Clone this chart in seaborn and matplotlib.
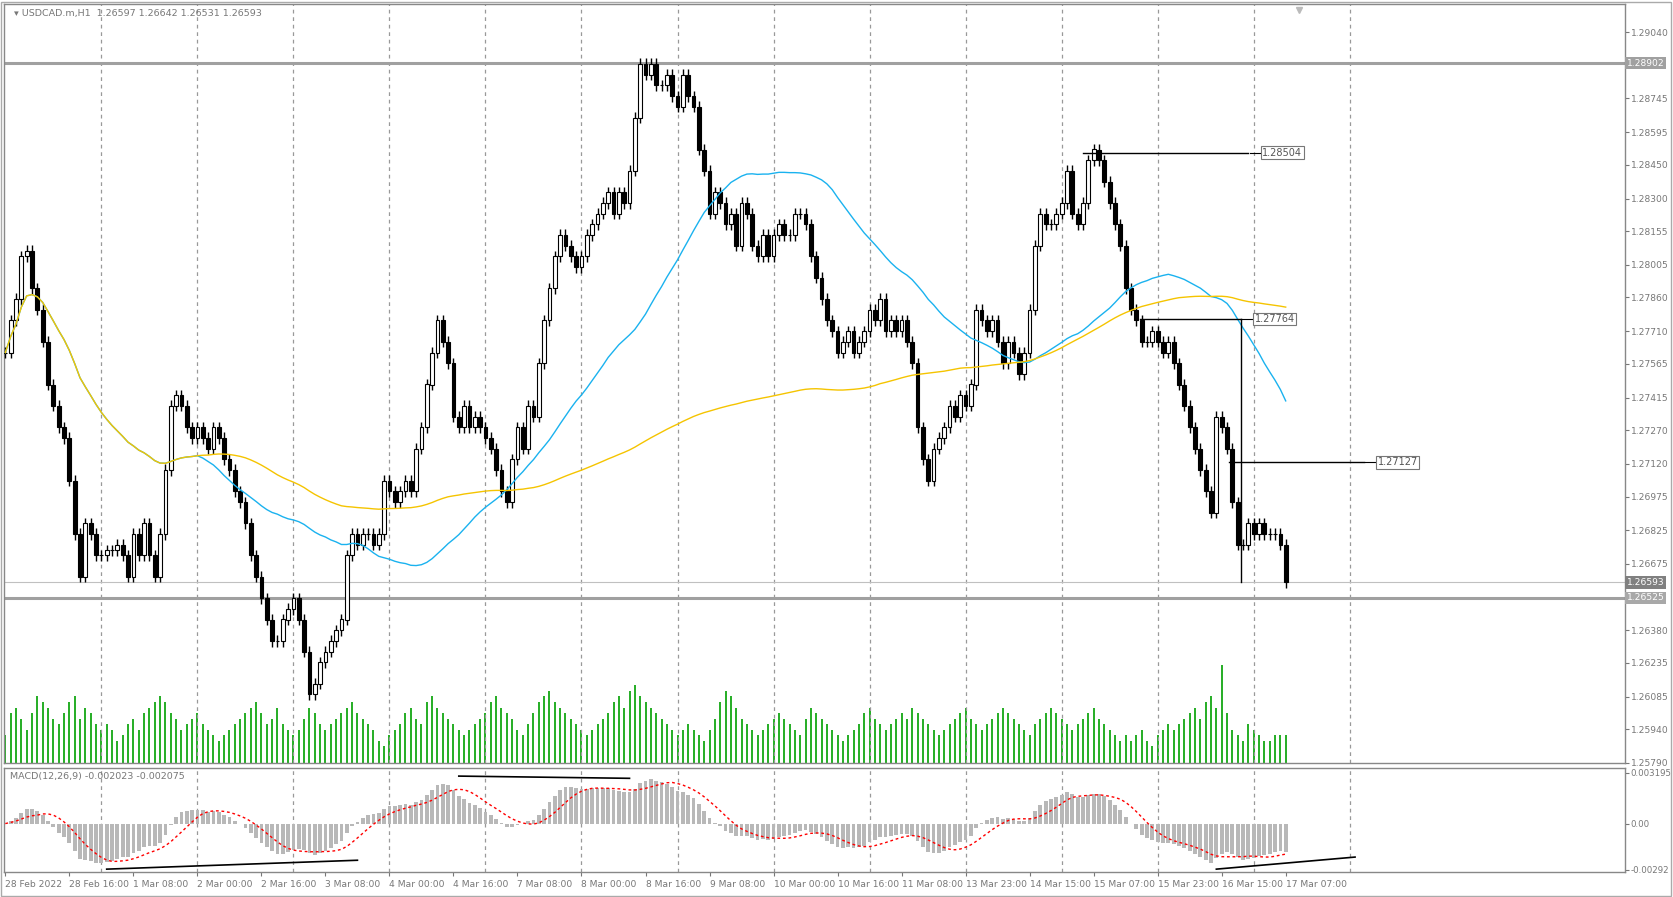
import numpy as np
import pandas as pd
import matplotlib
matplotlib.use("Agg")
import matplotlib.pyplot as plt
import matplotlib.transforms as mtrans
import seaborn as sns

closes = [
 1.27615,1.27758,1.27853,1.28043,1.28067,1.27900,1.27805,1.27663,1.27473,1.27378,
 1.27283,1.27235,1.27045,1.26808,1.26618,1.26855,1.26808,1.26713,1.26713,1.26736,
 1.26736,1.26760,1.26713,1.26618,1.26808,1.26713,1.26855,1.26713,1.26618,1.26808,
 1.27093,1.27378,1.27425,1.27378,1.27283,1.27235,1.27283,1.27235,1.27188,1.27283,
 1.27235,1.27140,1.27093,1.26998,1.26950,1.26855,1.26713,1.26618,1.26523,1.26428,
 1.26333,1.26333,1.26428,1.26475,1.26523,1.26428,1.26285,1.26095,1.26143,1.26238,
 1.26285,1.26333,1.26380,1.26428,1.26713,1.26808,1.26760,1.26808,1.26808,1.26760,
 1.26808,1.27045,1.26998,1.26950,1.26998,1.27045,1.26998,1.27188,1.27283,1.27473,
 1.27615,1.27758,1.27663,1.27568,1.27330,1.27283,1.27378,1.27283,1.27330,1.27283,
 1.27235,1.27188,1.27093,1.26998,1.26950,1.27140,1.27283,1.27188,1.27378,1.27330,
 1.27568,1.27758,1.27900,1.28043,1.28138,1.28090,1.28043,1.27995,1.28043,1.28138,
 1.28185,1.28233,1.28280,1.28328,1.28233,1.28328,1.28280,1.28423,1.28660,1.28898,
 1.28850,1.28898,1.28803,1.28803,1.28850,1.28755,1.28708,1.28850,1.28755,1.28708,
 1.28518,1.28423,1.28233,1.28328,1.28280,1.28185,1.28233,1.28090,1.28280,1.28233,
 1.28090,1.28043,1.28138,1.28043,1.28138,1.28185,1.28138,1.28138,1.28233,1.28233,
 1.28185,1.28043,1.27948,1.27853,1.27758,1.27710,1.27615,1.27663,1.27710,1.27615,
 1.27663,1.27710,1.27805,1.27758,1.27853,1.27710,1.27758,1.27710,1.27758,1.27663,
 1.27568,1.27283,1.27140,1.27045,1.27188,1.27235,1.27283,1.27378,1.27330,1.27425,
 1.27378,1.27473,1.27805,1.27758,1.27710,1.27758,1.27663,1.27568,1.27663,1.27615,
 1.27520,1.27615,1.27805,1.28090,1.28233,1.28185,1.28185,1.28233,1.28280,1.28423,
 1.28233,1.28185,1.28280,1.28470,1.28518,1.28470,1.28375,1.28280,1.28185,1.28090,
 1.27900,1.27805,1.27758,1.27663,1.27663,1.27710,1.27663,1.27615,1.27663,1.27568,
 1.27473,1.27378,1.27283,1.27188,1.27093,1.26998,1.26903,1.27330,1.27283,1.27188,
 1.26950,1.26760,1.26760,1.26855,1.26808,1.26855,1.26808,1.26808,1.26808,1.26760,
 1.26593]

volumes = [
 25,45,50,40,30,45,60,55,50,40,
 35,45,55,60,40,50,45,35,30,35,
 30,20,25,35,40,30,45,50,55,60,
 55,45,40,30,35,40,45,35,30,25,
 20,25,30,35,40,45,50,55,45,35,
 40,50,35,30,25,30,40,50,45,35,
 30,35,40,45,50,55,45,40,35,30,
 20,15,25,30,35,45,50,40,35,55,
 60,50,45,40,35,30,25,30,35,40,
 45,55,60,50,45,40,30,25,35,45,
 55,60,65,55,50,45,40,35,30,25,
 30,35,40,45,55,60,50,65,70,60,
 55,50,45,40,35,30,25,30,35,30,
 25,20,30,40,55,65,60,50,40,35,
 30,25,30,35,40,45,40,35,30,25,
 40,50,45,40,35,30,25,20,25,30,
 35,45,50,40,35,30,35,40,45,40,
 50,45,40,35,30,25,30,35,40,45,
 50,40,35,30,35,40,45,50,45,40,
 35,30,25,35,40,45,50,45,40,35,
 30,35,40,45,50,40,35,30,25,20,
 25,20,25,30,20,15,25,30,35,30,
 35,40,45,50,40,55,60,50,88,45,
 30,25,20,35,30,25,20,20,25,25,
 25]

date_labels = ["28 Feb 2022","28 Feb 16:00","1 Mar 08:00","2 Mar 00:00","2 Mar 16:00",
               "3 Mar 08:00","4 Mar 00:00","4 Mar 16:00","7 Mar 08:00","8 Mar 00:00",
               "8 Mar 16:00","9 Mar 08:00","10 Mar 00:00","10 Mar 16:00","11 Mar 08:00",
               "13 Mar 23:00","14 Mar 15:00","15 Mar 07:00","15 Mar 23:00","16 Mar 15:00",
               "17 Mar 07:00"]
price_ticks = [1.29040,1.28745,1.28595,1.28450,1.28300,1.28155,1.28005,1.27860,1.27710,
               1.27565,1.27415,1.27270,1.27120,1.26975,1.26825,1.26675,1.26380,1.26235,
               1.26085,1.25940,1.25790]
hlines = [1.28902, 1.26525]
last_price = 1.26593
level_lines = [(202, 233, 1.28504), (212.6, 231.6, 1.27764), (229.4, 254.6, 1.27127)]
macd_trend = [((85, 117), (0.00299, 0.00285)), ((19, 66), (-0.00287, -0.00231)),
              ((227, 253), (-0.00287, -0.00211))]

n = len(closes)
c = np.array(closes)
o = np.concatenate([[c[0]], c[:-1]])
wick = 0.00025
hi = np.maximum(o, c) + wick
lo = np.minimum(o, c) - wick
x = np.arange(n)
s = pd.Series(c)
ma_fast = s.rolling(37, min_periods=1).mean()
ma_slow = s.rolling(150, min_periods=1).mean()
macd = s.ewm(span=9, adjust=False).mean() - s.ewm(span=19, adjust=False).mean()
signal = macd.rolling(7, min_periods=1).mean()

W, H = 1673, 897
fig = plt.figure(figsize=(W/100, H/100), dpi=100)
fig.patch.set_facecolor("white")
ax = fig.add_axes([4/W, 1-763/H, 1621/W, 759/H])
axm = fig.add_axes([4/W, 1-872/H, 1621/W, 104/H], sharex=ax)
axv = ax.twinx()
axv.set_ylim(0, 684)
axv.set_axis_off()
axv.vlines(x, 0, np.array(volumes), color="#00a000", lw=1.2)
ax.set_zorder(axv.get_zorder()+1); ax.patch.set_visible(False)

ax.set_xlim(-0.25, 303.6)
ax.set_ylim(1.2579, 1.29165)
tc = "#777777"
for a in (ax, axm):
    for sp in a.spines.values():
        sp.set_color("#888888"); sp.set_linewidth(1)
    a.yaxis.tick_right()
    a.tick_params(axis="y", labelsize=6.6, colors=tc, length=3, pad=1.5)
    for g in range(18, 260, 18):
        a.axvline(g, color="#999999", lw=0.9, ls=(0, (3, 3)), zorder=0)
ax.set_yticks(price_ticks)
ax.set_yticklabels([f"{v:.5f}" for v in price_ticks])
ax.tick_params(axis="x", bottom=False, labelbottom=False)

for lvl in hlines:
    ax.axhline(lvl, color="#a0a0a0", lw=2.2, zorder=1)
ax.axhline(last_price, color="#c0c0c0", lw=0.8, zorder=1)

bull = c >= o
ax.vlines(x, lo, hi, color="black", lw=1, zorder=3)
ax.bar(x[bull], (c-o)[bull] + 1e-6, bottom=o[bull], width=0.7, color="white",
       edgecolor="black", lw=0.8, zorder=4)
ax.bar(x[~bull], (c-o)[~bull], bottom=o[~bull], width=0.7, color="black",
       edgecolor="black", lw=0.8, zorder=4)

df = pd.DataFrame({"x": x, "fast": ma_fast, "slow": ma_slow, "macd": macd, "sig": signal})
sns.lineplot(data=df, x="x", y="fast", ax=ax, color="#1ab2ef", lw=1, zorder=5)
sns.lineplot(data=df, x="x", y="slow", ax=ax, color="#f5c400", lw=1, zorder=5)
ax.set_xlabel(""); ax.set_ylabel("")

bt = mtrans.blended_transform_factory(ax.transAxes, ax.transData)
for lvl, fc in ((1.28902, "#a0a0a0"), (1.26593, "#808080"), (1.26525, "#a8a8a8")):
    ax.text(1.001, lvl, f"{lvl:.5f}", transform=bt, fontsize=6.6, color="white",
            va="center", ha="left", bbox=dict(fc=fc, ec="none", pad=1.2), zorder=10)

for (x0, x1, p) in level_lines:
    ax.plot([x0, x1], [p, p], color="black", lw=1, zorder=6)
    ax.plot([x1 + 0.3, x1 + 2.3], [p, p], color="black", lw=0.8, zorder=6)
    ax.text(x1 + 2.6, p, f"{p:.5f}", fontsize=7, color="#555555", va="center",
            bbox=dict(fc="white", ec="#777777", lw=0.8, pad=1), zorder=7)
ax.plot([231.6, 231.6], [1.27764, 1.26593], color="black", lw=1, zorder=6)

ax.text(0.006, 0.993, "\u25be USDCAD.m,H1  1.26597 1.26642 1.26531 1.26593",
        transform=ax.transAxes, fontsize=6.8, color="#777777", va="top", ha="left")
ax.plot([242.5], [1.2914], marker="v", color="#bbbbbb", ms=5, zorder=8)

axm.bar(x, macd, width=0.7, color="#b8b8b8", zorder=2)
sns.lineplot(data=df, x="x", y="sig", ax=axm, color="red", lw=1, ls=(0, (2, 2)), zorder=3)
axm.set_xlabel(""); axm.set_ylabel("")
for (xs, ys) in macd_trend:
    axm.plot(xs, ys, color="black", lw=1.2, zorder=4)
axm.set_ylim(-0.00305, 0.0035)
axm.set_yticks([0.003195, 0.0, -0.00292])
axm.set_yticklabels(["0.003195", "0.00", "-0.00292"])
axm.tick_params(axis="y", labelsize=6.2, pad=1)
axm.text(0.004, 0.96, "MACD(12,26,9) -0.002023 -0.002075", transform=axm.transAxes,
         fontsize=6.8, color="#777777", va="top")
axm.set_xticks([12*k for k in range(len(date_labels))])
axm.set_xticklabels(date_labels)
axm.tick_params(axis="x", labelsize=6.6, colors=tc, length=3, pad=3)
for lab in axm.get_xticklabels():
    lab.set_ha("left")

fig.add_artist(plt.Rectangle((1/W, 1/H), 1-3/W, 1-3/H, transform=fig.transFigure,
                             fill=False, ec="#aaaaaa", lw=1))
fig.savefig("out.png", dpi=100, facecolor="white")
